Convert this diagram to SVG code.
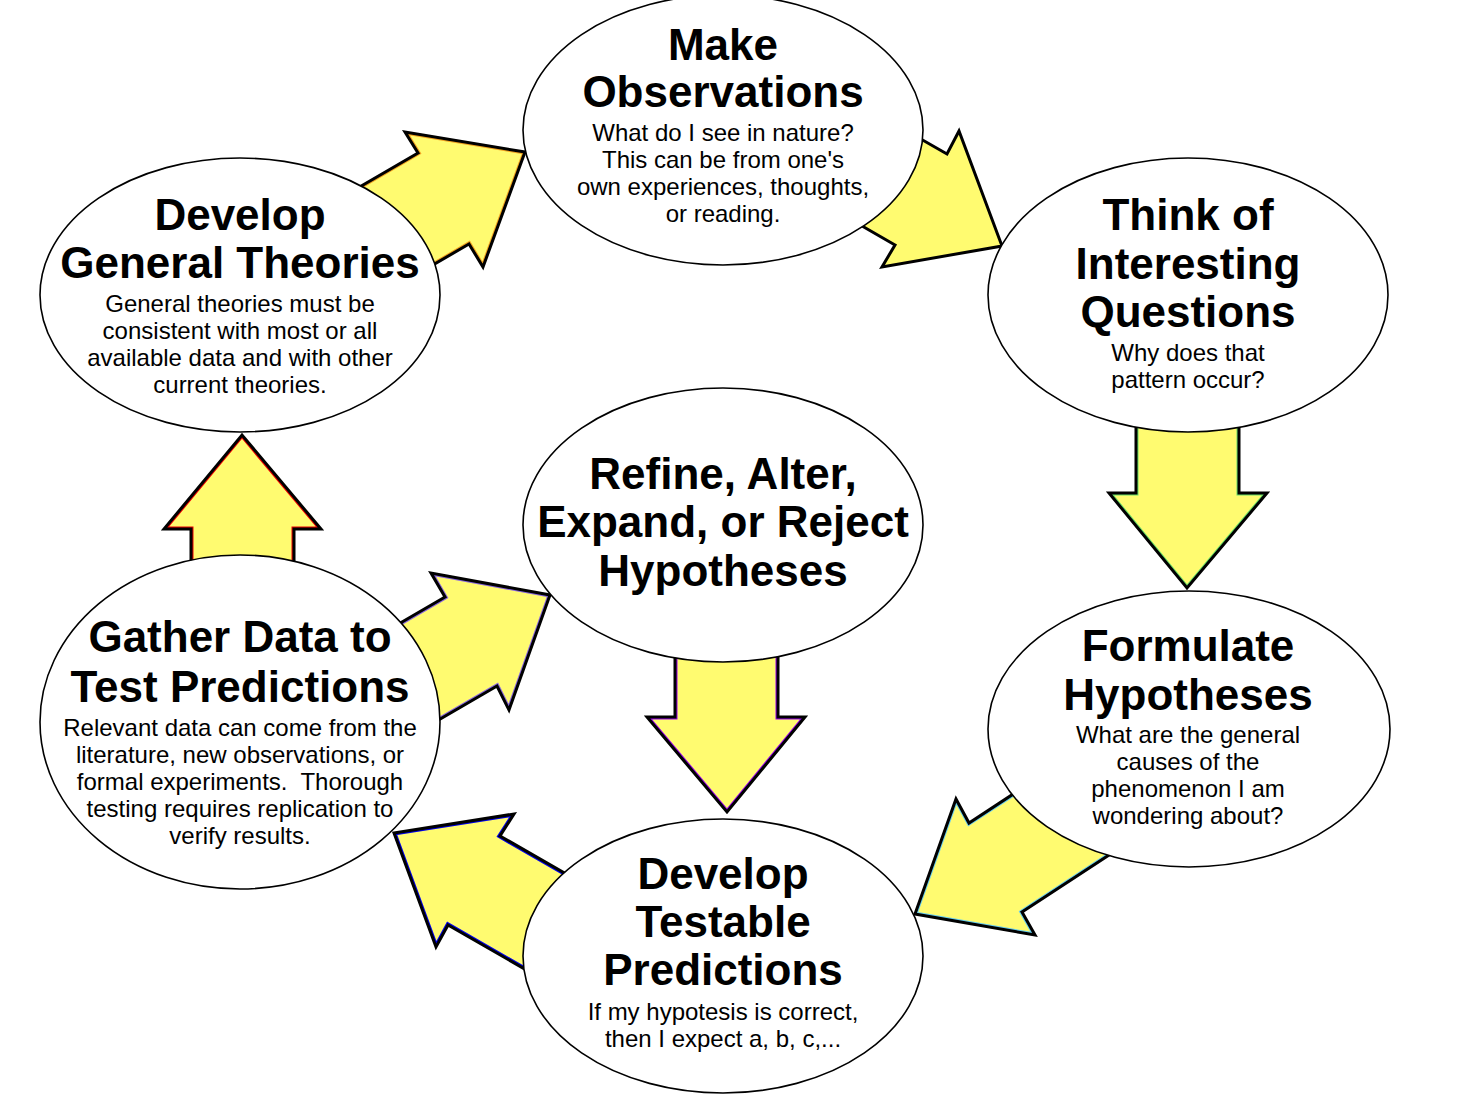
<svg xmlns="http://www.w3.org/2000/svg" xmlns:xlink="http://www.w3.org/1999/xlink" width="1468" height="1112" viewBox="0 0 1468 1112">
<style>
.node{fill:#ffffff;stroke:#000000;stroke-width:1.6}
.fill{fill:#fffb70;stroke:none}
.outer{fill:none;stroke:#000000;stroke-width:3}
.inner{fill:none;stroke-width:5}
.t{font-family:"Liberation Sans",Arial,sans-serif;font-weight:bold;font-size:44px;text-anchor:middle;fill:#000}
.b{font-family:"Liberation Sans",Arial,sans-serif;font-size:24px;text-anchor:middle;fill:#000}
</style>
<defs>
<polygon id="a1" points="289,228 418,153 405,132 525,152 483,267 469,244 340,319"/>
<polygon id="a2" points="816,79 947,154 959,131 1002,246 882,267 895,245 765,170"/>
<polygon id="a3" points="1136,400 1136,493 1109,493 1187,588 1267,493 1239,493 1239,400"/>
<polygon id="a4" points="1137,713 969,823 956,799 915,914 1035,935 1022,912 1190,802"/>
<polygon id="a5" points="394,833 514,814 500,836 674,936 622,1025 448,925 436,947"/>
<polygon id="a6" points="191,620 191,529 164,529 242,435 321,529 294,529 294,620"/>
<polygon id="a7" points="273,697 445,597 431,573 550,595 509,710 497,686 325,786"/>
<polygon id="a8" points="675,600 675,717 647,717 727,812 805,717 778,717 778,600"/>
<clipPath id="c1"><use xlink:href="#a1"/></clipPath>
<clipPath id="c3"><use xlink:href="#a3"/></clipPath>
<clipPath id="c4"><use xlink:href="#a4"/></clipPath>
<clipPath id="c5"><use xlink:href="#a5"/></clipPath>
<clipPath id="c6"><use xlink:href="#a6"/></clipPath>
<clipPath id="c7"><use xlink:href="#a7"/></clipPath>
<clipPath id="c8"><use xlink:href="#a8"/></clipPath>
</defs>
<rect width="1468" height="1112" fill="#ffffff"/>
<g id="connectors">
<g id="arrow-theories-observations"><use xlink:href="#a1" class="fill"/><use xlink:href="#a1" class="inner" stroke="#f0a020" clip-path="url(#c1)"/><use xlink:href="#a1" class="outer"/></g>
<g id="arrow-observations-questions"><use xlink:href="#a2" class="fill"/><use xlink:href="#a2" class="outer"/></g>
<g id="arrow-questions-hypotheses"><use xlink:href="#a3" class="fill"/><use xlink:href="#a3" class="inner" stroke="#66dd66" clip-path="url(#c3)"/><use xlink:href="#a3" class="outer"/></g>
<g id="arrow-hypotheses-predictions"><use xlink:href="#a4" class="fill"/><use xlink:href="#a4" class="inner" stroke="#66ccee" clip-path="url(#c4)"/><use xlink:href="#a4" class="outer"/></g>
<g id="arrow-predictions-gather"><use xlink:href="#a5" class="fill"/><use xlink:href="#a5" class="inner" stroke="#0000ee" clip-path="url(#c5)"/><use xlink:href="#a5" class="outer"/></g>
<g id="arrow-gather-theories"><use xlink:href="#a6" class="fill"/><use xlink:href="#a6" class="inner" stroke="#ee0000" clip-path="url(#c6)"/><use xlink:href="#a6" class="outer"/></g>
<g id="arrow-gather-refine"><use xlink:href="#a7" class="fill"/><use xlink:href="#a7" class="inner" stroke="#8866dd" clip-path="url(#c7)"/><use xlink:href="#a7" class="outer"/></g>
<g id="arrow-refine-predictions"><use xlink:href="#a8" class="fill"/><use xlink:href="#a8" class="inner" stroke="#9900ee" clip-path="url(#c8)"/><use xlink:href="#a8" class="outer"/></g>
</g>
<g id="observations">
<ellipse class="node" cx="723" cy="130" rx="200" ry="135"/>
<text class="t" x="723" y="60">Make</text>
<text class="t" x="723" y="107">Observations</text>
<text class="b" x="723" y="141">What do I see in nature?</text>
<text class="b" x="723" y="168">This can be from one's</text>
<text class="b" x="723" y="195">own experiences, thoughts,</text>
<text class="b" x="723" y="222">or reading.</text>
</g>
<g id="questions">
<ellipse class="node" cx="1188" cy="295" rx="200" ry="137"/>
<text class="t" x="1188" y="230">Think of</text>
<text class="t" x="1188" y="279">Interesting</text>
<text class="t" x="1188" y="327">Questions</text>
<text class="b" x="1188" y="361">Why does that</text>
<text class="b" x="1188" y="388">pattern occur?</text>
</g>
<g id="hypotheses">
<ellipse class="node" cx="1189" cy="729" rx="201" ry="138"/>
<text class="t" x="1188" y="661">Formulate</text>
<text class="t" x="1188" y="710">Hypotheses</text>
<text class="b" x="1188" y="743">What are the general</text>
<text class="b" x="1188" y="770">causes of the</text>
<text class="b" x="1188" y="797">phenomenon I am</text>
<text class="b" x="1188" y="824">wondering about?</text>
</g>
<g id="predictions">
<ellipse class="node" cx="723" cy="956" rx="200" ry="137"/>
<text class="t" x="723" y="889">Develop</text>
<text class="t" x="723" y="937">Testable</text>
<text class="t" x="723" y="985">Predictions</text>
<text class="b" x="723" y="1020">If my hypotesis is correct,</text>
<text class="b" x="723" y="1047">then I expect a, b, c,...</text>
</g>
<g id="gather">
<ellipse class="node" cx="240" cy="722" rx="200" ry="167"/>
<text class="t" x="240" y="652">Gather Data to</text>
<text class="t" x="240" y="702">Test Predictions</text>
<text class="b" x="240" y="736" xml:space="preserve">Relevant data can come from the</text>
<text class="b" x="240" y="763" xml:space="preserve">literature, new observations, or</text>
<text class="b" x="240" y="790" xml:space="preserve">formal experiments.  Thorough</text>
<text class="b" x="240" y="817" xml:space="preserve">testing requires replication to</text>
<text class="b" x="240" y="844" xml:space="preserve">verify results.</text>
</g>
<g id="theories">
<ellipse class="node" cx="240" cy="295" rx="200" ry="137"/>
<text class="t" x="240" y="230">Develop</text>
<text class="t" x="240" y="278">General Theories</text>
<text class="b" x="240" y="312">General theories must be</text>
<text class="b" x="240" y="339">consistent with most or all</text>
<text class="b" x="240" y="366">available data and with other</text>
<text class="b" x="240" y="393">current theories.</text>
</g>
<g id="refine">
<ellipse class="node" cx="723" cy="525" rx="200" ry="137"/>
<text class="t" x="723" y="489">Refine, Alter,</text>
<text class="t" x="723" y="537">Expand, or Reject</text>
<text class="t" x="723" y="586">Hypotheses</text>
</g>
</svg>
